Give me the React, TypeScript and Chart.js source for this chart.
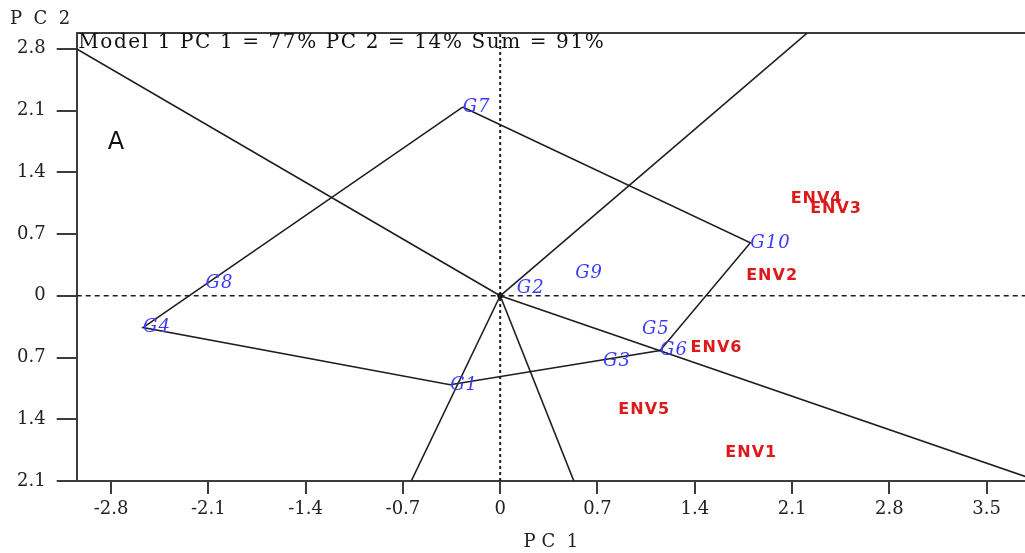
import React, { useEffect, useRef } from 'react';
import { Chart, registerables } from 'chart.js';

Chart.register(...registerables);

// ---- data ----
const genotypes = ['G1', 'G2', 'G3', 'G4', 'G5', 'G6', 'G7', 'G8', 'G9', 'G10'];
const genoPC1 = [-0.36, 0.12, 0.74, -2.57, 1.02, 1.15, -0.27, -2.12, 0.54, 1.8];
const genoPC2 = [-1.01, 0.09, -0.74, -0.36, -0.38, -0.62, 2.14, 0.14, 0.26, 0.6];

const environments = ['ENV1', 'ENV2', 'ENV3', 'ENV4', 'ENV5', 'ENV6'];
const envPC1 = [1.62, 1.77, 2.23, 2.09, 0.85, 1.37];
const envPC2 = [-1.78, 0.23, 0.99, 1.1, -1.29, -0.59];

// polygon (which-won-where) vertices, in drawing order
const hullOrder = ['G7', 'G10', 'G6', 'G1', 'G4', 'G7'];

// rays from the origin, end points (where they leave the plot)
const rayEndPC1 = [-3.05, 2.21, 3.78, 0.53, -0.64];
const rayEndPC2 = [2.8, 2.98, -2.05, -2.1, -2.1];

const xTicks = [-2.8, -2.1, -1.4, -0.7, 0, 0.7, 1.4, 2.1, 2.8, 3.5];
const yTicks = [-2.1, -1.4, -0.7, 0, 0.7, 1.4, 2.1, 2.8];
const xRange = [-3.047, 3.776];
const yRange = [-2.1, 2.978];

const modelNote = 'Model 1 PC 1 = 77% PC 2 = 14% Sum = 91%';
const panelLetter = 'A';
const xTitle = 'P C  1';
const yTitle = 'P  C  2';

const SERIF = '"DejaVu Serif", "Liberation Serif", serif';
const SANS = '"DejaVu Sans", "Liberation Sans", sans-serif';
const LINE = '#1e1e1e';
const AXIS = '#3c3c3c';

const labelPlugin = {
  id: 'biplotLabels',
  afterDatasetsDraw(chart: any) {
    const { ctx, chartArea, scales } = chart;
    const xs = scales.x;
    const ys = scales.y;
    ctx.save();
    ctx.textAlign = 'left';
    ctx.textBaseline = 'middle';
    ctx.font = `italic 18px ${SERIF}`;
    ctx.fillStyle = '#3a3aff';
    (ctx as any).letterSpacing = '1px';
    genotypes.forEach((g, i) => {
      ctx.fillText(g, xs.getPixelForValue(genoPC1[i]), ys.getPixelForValue(genoPC2[i]));
    });
    ctx.font = `bold 16px ${SANS}`;
    ctx.fillStyle = '#dc1a1a';
    (ctx as any).letterSpacing = '1px';
    environments.forEach((e, i) => {
      ctx.fillText(e, xs.getPixelForValue(envPC1[i]), ys.getPixelForValue(envPC2[i]));
    });
    ctx.textBaseline = 'alphabetic';
    ctx.fillStyle = '#111111';
    ctx.font = `20px ${SERIF}`;
    (ctx as any).letterSpacing = '1.6px';
    ctx.fillText(modelNote, chartArea.left + 1.5, chartArea.top + 15);
    (ctx as any).letterSpacing = '0px';
    ctx.font = `24px ${SANS}`;
    ctx.fillText(panelLetter, chartArea.left + 31, chartArea.top + 116);
    ctx.restore();
  },
};

function lookup(name: string) {
  const i = genotypes.indexOf(name);
  return { x: genoPC1[i], y: genoPC2[i] };
}

export default function App() {
  const canvasRef = useRef<HTMLCanvasElement | null>(null);

  useEffect(() => {
    if (!canvasRef.current) return;

    const lineDs = (data: { x: number; y: number }[], extra: any = {}) => ({
      type: 'line' as const,
      data,
      showLine: true,
      borderColor: LINE,
      backgroundColor: LINE,
      borderWidth: 1.5,
      pointRadius: 0,
      pointHoverRadius: 0,
      fill: false,
      tension: 0,
      ...extra,
    });

    const datasets: any[] = [];
    // zero reference lines
    datasets.push(
      lineDs(
        [
          { x: xRange[0], y: 0 },
          { x: xRange[1], y: 0 },
        ],
        { borderDash: [5, 4], borderWidth: 1.3 }
      )
    );
    datasets.push(
      lineDs(
        [
          { x: 0, y: yRange[0] },
          { x: 0, y: yRange[1] },
        ],
        { borderDash: [3, 3], borderWidth: 2 }
      )
    );
    // polygon
    datasets.push(lineDs(hullOrder.map(lookup)));
    // rays
    rayEndPC1.forEach((px, i) => {
      datasets.push(
        lineDs(
          [
            { x: 0, y: 0 },
            { x: px, y: rayEndPC2[i] },
          ],
          { borderWidth: 1.6 }
        )
      );
    });
    // origin marker
    datasets.push({
      type: 'scatter',
      data: [{ x: 0, y: 0 }],
      pointRadius: 2.5,
      pointHoverRadius: 2.5,
      backgroundColor: '#000',
      borderColor: '#000',
      showLine: false,
    });

    const noSidePad = (s: any) => {
      s.paddingLeft = 0;
      s.paddingRight = 0;
    };

    const chart = new Chart(canvasRef.current, {
      type: 'scatter',
      data: { datasets },
      plugins: [labelPlugin],
      options: {
        animation: false,
        responsive: false,
        events: [],
        layout: { autoPadding: false, padding: { left: 10, right: 0, top: 0, bottom: 0 } },
        plugins: {
          legend: { display: false },
          tooltip: { enabled: false },
          title: {
            display: true,
            text: yTitle,
            align: 'start',
            color: '#222',
            font: { family: SERIF, size: 18, weight: 'normal' },
            padding: { top: 9, bottom: 2.5 },
          },
        },
        scales: {
          x: {
            type: 'linear',
            position: 'bottom',
            min: xRange[0],
            max: xRange[1],
            afterBuildTicks: (s: any) => {
              s.ticks = xTicks.map((v) => ({ value: v }));
            },
            afterFit: (s: any) => {
              s.height = 72;
              noSidePad(s);
            },
            ticks: {
              autoSkip: false,
              maxRotation: 0,
              padding: 5,
              color: '#222',
              font: { family: SERIF, size: 18 },
              callback: (v: any) => String(v),
            },
            grid: {
              drawOnChartArea: false,
              drawTicks: true,
              tickLength: 13,
              color: AXIS,
              lineWidth: 2,
            },
            border: { display: true, color: AXIS, width: 2 },
            title: {
              display: true,
              text: xTitle,
              color: '#222',
              font: { family: SERIF, size: 18 },
              padding: { top: 4, bottom: 0 },
            },
          },
          xTop: {
            type: 'linear',
            position: 'top',
            min: xRange[0],
            max: xRange[1],
            afterFit: (s: any) => {
              s.height = 0;
              noSidePad(s);
            },
            ticks: { display: false },
            grid: { display: false, drawTicks: false },
            border: { display: true, color: AXIS, width: 2 },
          },
          y: {
            type: 'linear',
            position: 'left',
            min: yRange[0],
            max: yRange[1],
            afterBuildTicks: (s: any) => {
              s.ticks = yTicks.map((v) => ({ value: v }));
            },
            afterFit: (s: any) => {
              s.width = 66.7;
            },
            ticks: {
              autoSkip: false,
              padding: 11,
              color: '#222',
              font: { family: SERIF, size: 18 },
              callback: (v: any) => String(Math.abs(v)),
            },
            grid: {
              drawOnChartArea: false,
              drawTicks: true,
              tickLength: 20,
              color: AXIS,
              lineWidth: 2,
            },
            border: { display: true, color: AXIS, width: 2 },
          },
        },
      } as any,
    });

    return () => chart.destroy();
  }, []);

  return (
    <div style={{ position: 'absolute', left: 0, top: 0, width: 1025, height: 553, background: '#fff' }}>
      <canvas ref={canvasRef} width={1025} height={553} style={{ display: 'block' }} />
    </div>
  );
}
